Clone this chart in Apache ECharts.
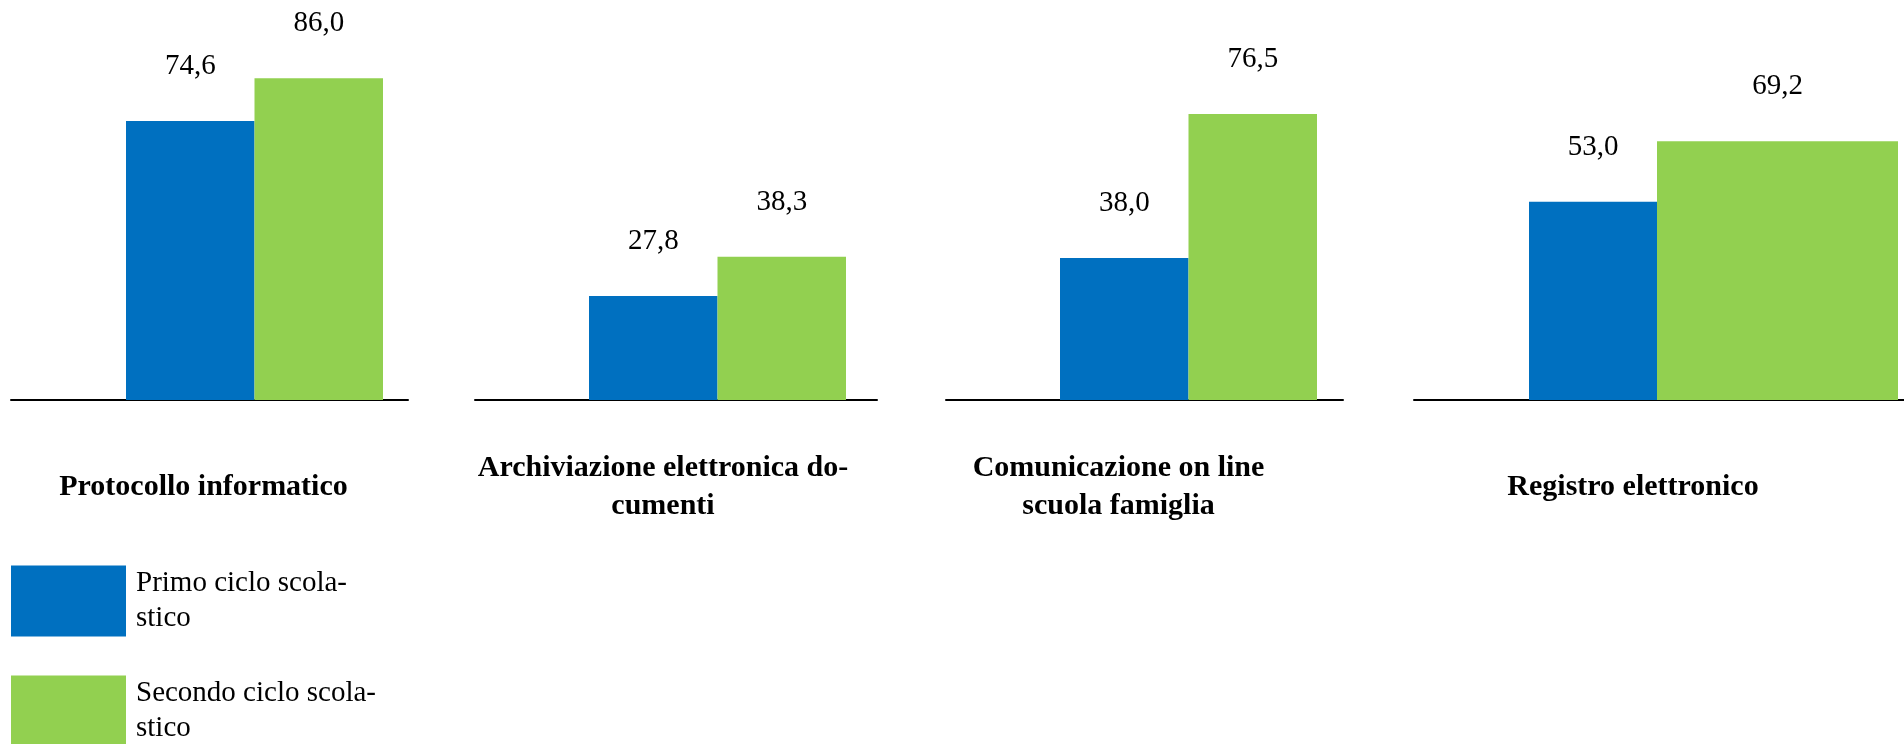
<!DOCTYPE html>
<html>
<head>
<meta charset="utf-8">
<script src="https://cdn.jsdelivr.net/npm/echarts@6/dist/echarts.min.js"></script>
<style>
html,body{margin:0;padding:0;background:#fff;}
#chart{width:1904px;height:744px;}
</style>
</head>
<body>
<div id="chart"></div>
<script>
// ---- data ----
const categories = ['Protocollo informatico', 'Archiviazione elettronica do-\ncumenti', 'Comunicazione on line\nscuola famiglia', 'Registro elettronico'];
const seriesNames = ['Primo ciclo scolastico', 'Secondo ciclo scolastico'];
const legendLabels = ['Primo ciclo scola-\nstico', 'Secondo ciclo scola-\nstico'];
const primo = [74.6, 27.8, 38.0, 53.0];
const secondo = [86.0, 38.3, 76.5, 69.2];

// ---- layout (not data) ----
const FONT = "'Liberation Serif', 'Times New Roman', serif";
const colors = ['#0070C0', '#92D050'];
const lineLayout = [
  {left: 11, width: 397},
  {left: 475, width: 402},
  {left: 946, width: 397},
  {left: 1414, width: 490}
];
const barLayout = [
  {left: 126, width: 257, bw: [null, null]},
  {left: 589, width: 257, bw: [null, null]},
  {left: 1060, width: 257, bw: [null, null]},
  {left: 1529, width: 369, bw: [128, 241]}
];
const labelShift = [12, 26, 52, 52];
const TOP = 26, BOTTOM = 344;

const grid = [], xAxis = [], yAxis = [], series = [];
const values = [primo, secondo];

categories.forEach((cat, i) => {
  // baseline grid with category label
  grid.push({left: lineLayout[i].left, width: lineLayout[i].width, top: TOP, bottom: BOTTOM});
  const lineIdx = grid.length - 1;
  xAxis.push({
    type: 'category', gridIndex: lineIdx, data: [cat],
    axisLine: {show: true, lineStyle: {color: '#000', width: 2}},
    axisTick: {show: false},
    axisLabel: {
      margin: 87, verticalAlign: 'middle', color: '#000',
      fontFamily: FONT, fontWeight: 'bold', fontSize: 30, lineHeight: 38,
      padding: [0, labelShift[i], 0, 0]
    },
    splitLine: {show: false}
  });
  yAxis.push({type: 'value', gridIndex: lineIdx, min: 0, max: 100, show: false});

  // bar grid
  grid.push({left: barLayout[i].left, width: barLayout[i].width, top: TOP, bottom: BOTTOM});
  const barIdx = grid.length - 1;
  xAxis.push({
    type: 'category', gridIndex: barIdx, data: [cat],
    axisLine: {show: false}, axisTick: {show: false}, axisLabel: {show: false}, splitLine: {show: false}
  });
  yAxis.push({type: 'value', gridIndex: barIdx, min: 0, max: 100, show: false});

  seriesNames.forEach((name, s) => {
    const ser = {
      name: name, type: 'bar', xAxisIndex: barIdx, yAxisIndex: barIdx,
      data: [values[s][i]],
      itemStyle: {color: colors[s]},
      barGap: '0%', barCategoryGap: '0%',
      label: {
        show: true, position: 'top', distance: 40, color: '#000',
        fontFamily: FONT, fontSize: 29,
        formatter: p => p.value.toFixed(1).replace('.', ',')
      },
      silent: true, animation: false
    };
    if (barLayout[i].bw[s]) ser.barWidth = barLayout[i].bw[s];
    series.push(ser);
  });
});

const chart = echarts.init(document.getElementById('chart'));
chart.setOption({
  animation: false,
  backgroundColor: '#fff',
  grid: grid, xAxis: xAxis, yAxis: yAxis, series: series,
  legend: {
    orient: 'vertical', left: 11, top: 564, height: 300, padding: 0,
    itemWidth: 115, itemHeight: 71, itemGap: 36,
    icon: 'rect', selectedMode: false,
    data: seriesNames,
    formatter: name => legendLabels[seriesNames.indexOf(name)],
    textStyle: {fontFamily: FONT, fontSize: 29, lineHeight: 35, color: '#000', padding: [4, 0, 0, 5]}
  }
});
</script>
</body>
</html>
